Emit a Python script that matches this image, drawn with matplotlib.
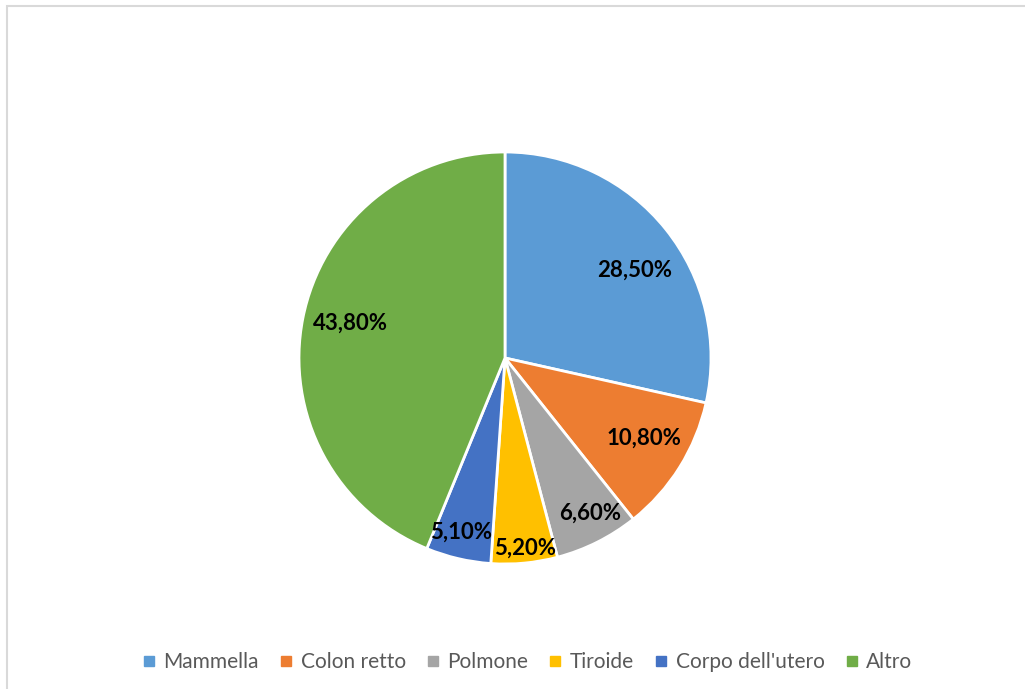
import numpy as np
import matplotlib.pyplot as plt
from matplotlib.patches import Rectangle
from matplotlib.lines import Line2D

# dati
categorie = ['Mammella', 'Colon retto', 'Polmone', 'Tiroide', "Corpo dell'utero", 'Altro']
percentuali = [28.5, 10.8, 6.6, 5.2, 5.1, 43.8]
etichette = ['28,50%', '10,80%', '6,60%', '5,20%', '5,10%', '43,80%']

colori = ['#5B9BD5', '#ED7D31', '#A5A5A5', '#FFC000', '#4472C4', '#70AD47']
# posizione delle etichette: distanza (frazione del raggio) e scarto angolare in gradi
dist_etichette = [0.76, 0.78, 0.86, 0.93, 0.87, 0.77]
scarto_ang = [-4.5, 2.0, 2.0, 0.5, -1.0, -1.5]

fig = plt.figure(figsize=(10.25, 6.89), dpi=100)
fig.patch.set_facecolor('white')

# cornice del grafico
fig.patches.append(Rectangle((7 / 1025, -0.1), 1.2, 1 - 6 / 689 + 0.1,
                             transform=fig.transFigure, fill=False,
                             edgecolor='#d9d9d9', linewidth=1.5))

ax = fig.add_axes([299 / 1025, 125 / 689, 412 / 1025, 412 / 689])
wedges, _ = ax.pie(percentuali, colors=colori, startangle=90, counterclock=False,
                   radius=1.0,
                   wedgeprops=dict(edgecolor='white', linewidth=2))
ax.set_xlim(-1, 1)
ax.set_ylim(-1, 1)
ax.set_aspect('equal')
ax.axis('off')

# etichette percentuali
for w, testo, d, s in zip(wedges, etichette, dist_etichette, scarto_ang):
    ang = np.deg2rad((w.theta1 + w.theta2) / 2 + s)
    ax.text(d * np.cos(ang), d * np.sin(ang), testo, ha='center', va='center',
            fontsize=16, fontweight='bold', family='Lato', color='black')

# legenda
maniglie = [Line2D([], [], linestyle='', marker='s', markersize=7,
                   markerfacecolor=c, markeredgecolor=c) for c in colori]
fig.legend(maniglie, categorie, loc='center', ncol=6, frameon=False,
           bbox_to_anchor=(527 / 1025, 1 - 662 / 689),
           prop={'family': 'Lato', 'size': 15}, labelcolor='#595959',
           handlelength=0.7, handletextpad=0.35, columnspacing=0.95)

plt.savefig('out.png', dpi=100)
